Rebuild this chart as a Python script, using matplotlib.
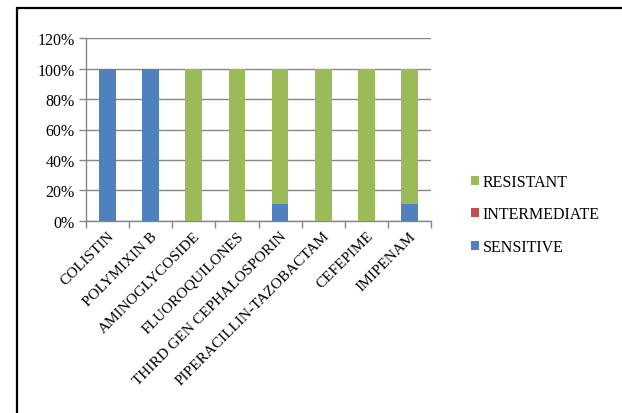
import numpy as np
import matplotlib.pyplot as plt
from matplotlib.patches import Rectangle
from matplotlib.ticker import FuncFormatter, MultipleLocator

categories = ["COLISTIN", "POLYMIXIN B", "AMINOGLYCOSIDE", "FLUOROQUILONES",
              "THIRD GEN CEPHALOSPORIN", "PIPERACILLIN-TAZOBACTAM", "CEFEPIME", "IMIPENAM"]
sensitive = [100, 100, 0, 0, 11.1, 0, 0, 11.1]
intermediate = [0, 0, 0, 0, 0, 0, 0, 0]
resistant = [0, 0, 100, 100, 88.9, 100, 100, 88.9]

plt.rcParams['font.family'] = ['Liberation Serif', 'DejaVu Serif']

W, H = 622, 414
fig = plt.figure(figsize=(W / 100, H / 100), dpi=100)

# outer chart frame (runs off the right and bottom edges)
fig.patches.append(Rectangle((17 / W, -0.1), 1.2, 1 - 9 / H + 0.1, transform=fig.transFigure,
                             fill=False, edgecolor='black', linewidth=1.6))

ax = fig.add_axes([86 / W, 1 - 221.7 / H, (431 - 86) / W, (221.7 - 39.3) / H])

x = np.arange(len(categories))
width = 0.39
blue, red, green = '#4F81BD', '#C0504D', '#9BBB59'
s = np.array(sensitive)
i = np.array(intermediate)
r = np.array(resistant)
b1 = ax.bar(x, s, width, color=blue, label='SENSITIVE', zorder=3)
b2 = ax.bar(x, i, width, bottom=s, color=red, label='INTERMEDIATE', zorder=3)
b3 = ax.bar(x, r, width, bottom=s + i, color=green, label='RESISTANT', zorder=3)

ax.set_xlim(-0.5, len(categories) - 0.5)
ax.set_ylim(0, 120)
ax.yaxis.set_major_locator(MultipleLocator(20))
ax.yaxis.set_major_formatter(FuncFormatter(lambda v, _: f"{v:.0f}%"))
ax.yaxis.grid(True, color='#868686', linewidth=1, zorder=0)

for side in ['top', 'right']:
    ax.spines[side].set_visible(False)
ax.spines['left'].set_color('#868686')
ax.spines['bottom'].set_color('#868686')
ax.spines['left'].set_linewidth(1)
ax.spines['bottom'].set_linewidth(1)

ax.set_xticks(np.arange(len(categories) + 1) - 0.5, minor=False)
ax.set_xticklabels([])
ax.set_xticks(x, minor=True)
ax.set_xticklabels(categories, minor=True, rotation=45, ha='right', rotation_mode='anchor',
                   fontsize=11)
ax.tick_params(axis='x', which='major', length=5, color='#868686', width=1)
ax.tick_params(axis='x', which='minor', length=0, pad=6)
ax.tick_params(axis='y', length=5, color='#868686', width=1, labelsize=11.5, pad=3)

fig.legend(handles=[b3, b2, b1], labels=['RESISTANT', 'INTERMEDIATE', 'SENSITIVE'],
           loc='center left', bbox_to_anchor=(457 / W, 1 - 215.5 / H), frameon=False,
           fontsize=11.5, handlelength=0.5, handleheight=0.5, handletextpad=0.2,
           labelspacing=1.05)

fig.savefig('out.png', dpi=100)
